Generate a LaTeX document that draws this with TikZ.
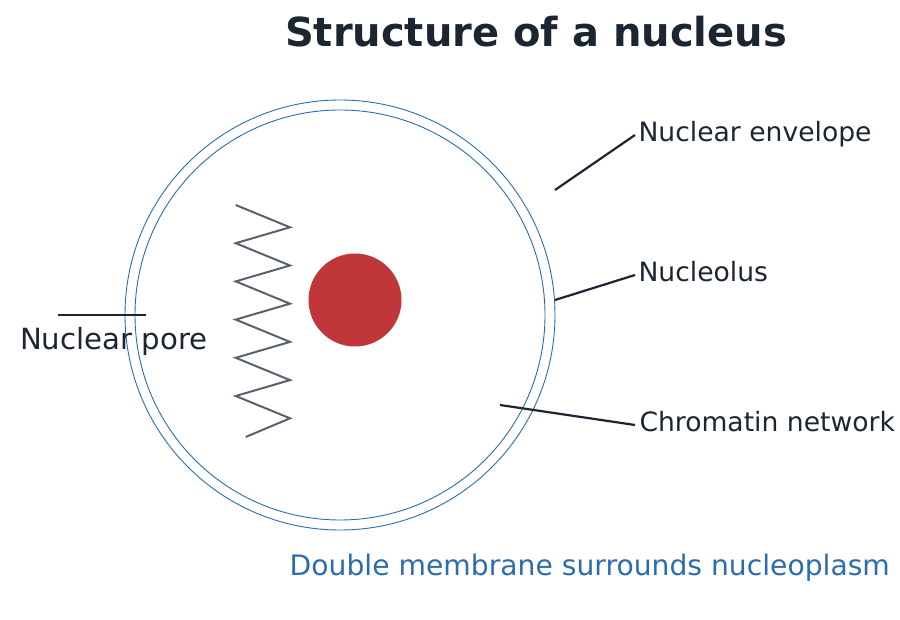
\documentclass[tikz,border=0pt]{standalone}
\usepackage{fontspec}
\setmainfont{DejaVu Sans}
\usepackage{tikz}
\usetikzlibrary{positioning}
\definecolor{inkdark}{HTML}{1C2532}
\definecolor{membblue}{HTML}{2B6CB0}
\definecolor{nucred}{HTML}{BF3739}
\definecolor{chromgray}{HTML}{59616E}
\tikzset{
	lbl/.style={inner sep=0pt, outer sep=3.5pt, text=inkdark, font=\fontsize{26.6pt}{30pt}\selectfont, text height=20pt, text depth=6.3pt},
	leader/.style={draw=inkdark, line width=2.2pt},
	membrane/.style={draw=membblue, line width=0.9pt}
}

\begin{document}
\begin{tikzpicture}[x=1pt, y=-1pt]
		\useasboundingbox (0,0) rectangle (900,620);
		
		\node[anchor=base, text=inkdark, font=\fontsize{40pt}{44pt}\selectfont\bfseries] (title) at (536,46.5) {Structure of a nucleus};
		
		\node[circle, membrane, minimum size=430pt, inner sep=0pt] (outer) at (340,315) {};
		\node[circle, membrane, minimum size=410pt, inner sep=0pt] (inner) at (340,315) {};
		
		\node[circle, fill=nucred, minimum size=93pt, inner sep=0pt] (nucleolus) at (355,300) {};
		
		\draw[chromgray, line width=2pt, line join=miter]
			(235.7,205) -- (290,227.3) -- (235.7,243.2) -- (290,265.5) -- (235.7,281.4) -- (290,303.7)
			-- (235.7,319.6) -- (290,341.9) -- (235.7,357.8) -- (290,380.1) -- (235.7,396) -- (290,418.3)
			-- (245.7,437);
		
		\coordinate (env-tip) at (555,190);
		\coordinate (env-end) at (635,135);
		\node[lbl, right = 0pt of env-end] (env) {Nuclear envelope};
		\draw[leader] (env-tip) -- (env.west);
		
		\coordinate (nol-tip) at (555,300);
		\coordinate (nol-end) at (635,275);
		\node[lbl, right = 0pt of nol-end] (nol) {Nucleolus};
		\draw[leader] (nol-tip) -- (nol.west);
		
		\coordinate (chr-tip) at (500,405);
		\coordinate (chr-end) at (635,425);
		\node[lbl, right = 1pt of chr-end] (chr) {Chromatin network};
		\draw[leader] (chr-tip) -- (chr-end);
		
		\coordinate (pore-a) at (58,315);
		\coordinate (pore-b) at (146,315);
		\draw[leader] (pore-a) -- (pore-b);
		\node[lbl, anchor=base west, outer sep=0pt, font=\fontsize{29.2pt}{32pt}\selectfont] (pore) at (20,350) {Nuclear pore};
		
		\node[anchor=base west, inner sep=0pt, text=membblue, font=\fontsize{28.2pt}{32pt}\selectfont] (note) at (289.5,575) {Double membrane surrounds nucleoplasm};
		
	\end{tikzpicture}
\end{document}
